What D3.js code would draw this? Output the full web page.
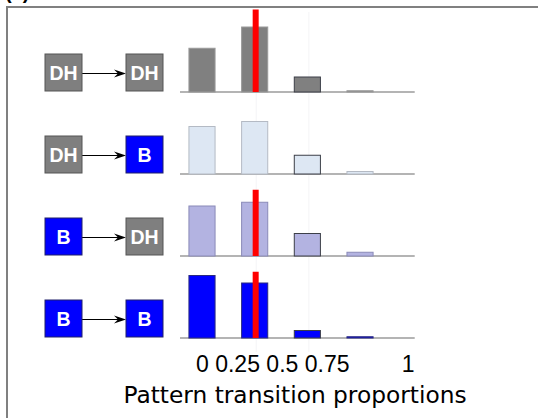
<!DOCTYPE html>
<html>
<head>
<meta charset="utf-8">
<script src="https://cdn.jsdelivr.net/npm/d3@7"></script>
<style>
  html, body { margin: 0; padding: 0; background: #fff; }
  svg { display: block; }
</style>
</head>
<body>
<svg id="chart" width="538" height="418"></svg>
<script>
// Histogram bins (proportion of pattern transitions)
const bins = [0, 0.25, 0.5, 0.75, 1];
const tickLabels = ["0", "0.25", "0.5", "0.75", "1"];

// Transition rows: state before -> state after
const fromState = ["DH", "DH", "B", "B"];
const toState   = ["DH", "B", "DH", "B"];

// Share of cases falling in each bin, one list per transition
const dhToDh = [0.35, 0.52, 0.12, 0.01, 0];
const dhToB  = [0.38, 0.42, 0.15, 0.02, 0];
const bToDh  = [0.40, 0.43, 0.18, 0.03, 0];
const bToB   = [0.50, 0.44, 0.06, 0.01, 0];
const rowValues = [dhToDh, dhToB, bToDh, bToB];

// Reference marker (red): position on the x axis and its height per row
const markerX = 0.25;
const markerHeights = [0.66, null, 0.53, 0.53];

const axisTitle = "Pattern transition proportions";
const panelTitle = "(a)";

// ---- styling -------------------------------------------------------------
const stateFill   = { DH: "#7f7f7f", B: "#0000ff" };
const stateStroke = { DH: "#555555", B: "#20206a" };
const rowFill     = ["#808080", "#dde7f3", "#b3b3e1", "#0000ff"];
const rowStroke   = ["#9a9a9a", "#b4bac4", "#8a8ab8", "#2a2a80"];
const darkEdge    = "#3c3f48";

const svg = d3.select("#chart");

// frame around the panel (cropped on the right and bottom)
svg.append("path")
  .attr("d", "M7,418 V7 H538")
  .attr("fill", "none")
  .attr("stroke", "#808080")
  .attr("stroke-width", 2);

// panel letter, mostly above the visible area
svg.append("text")
  .attr("x", 5).attr("y", -1)
  .attr("font-family", "Liberation Sans, Arial, sans-serif")
  .attr("font-weight", "bold")
  .attr("font-size", 20)
  .attr("fill", "#000")
  .text(panelTitle);

// ---- scales --------------------------------------------------------------
const x = d3.scaleLinear().domain([0, 1]).range([202, 412.7]);
const barW = x(0.124) - x(0);
const rowBase = d3.scaleLinear().domain([0, 3]).range([92, 338]);
const h = d3.scaleLinear().domain([0, 1]).range([0, 125]);

// faint guides
svg.append("g").selectAll("line")
  .data([0.25, 0.5])
  .join("line")
  .attr("x1", d => x(d) + 1.5).attr("x2", d => x(d) + 1.5)
  .attr("y1", 12).attr("y2", 352)
  .attr("stroke", "#f4f4f6")
  .attr("stroke-width", 1);

// ---- rows ----------------------------------------------------------------
rowValues.forEach((vals, r) => {
  const base = rowBase(r);
  const g = svg.append("g");

  // baseline
  g.append("line")
    .attr("x1", x(0) - 22).attr("x2", x(1) + 2)
    .attr("y1", base).attr("y2", base)
    .attr("stroke", "#b4b4b4")
    .attr("stroke-width", 2);

  // bars
  g.selectAll("rect.bar")
    .data(bins.map((b, i) => ({ b, v: vals[i] })).filter(d => d.v > 0))
    .join("rect")
    .attr("class", "bar")
    .attr("x", d => x(d.b) - barW / 2)
    .attr("y", d => base - h(d.v))
    .attr("width", barW)
    .attr("height", d => h(d.v))
    .attr("fill", rowFill[r])
    .attr("stroke", d => d.b === 0.5 ? darkEdge : rowStroke[r])
    .attr("stroke-width", 1);

  // red reference marker
  if (markerHeights[r] != null) {
    g.append("rect")
      .attr("x", x(markerX) - 2)
      .attr("y", base - h(markerHeights[r]))
      .attr("width", 6)
      .attr("height", h(markerHeights[r]))
      .attr("fill", "#ff0000");
  }

  // transition diagram: state box -> state box
  const cy = base - 19.5;
  const boxS = 37;
  const leftX = 45, rightX = 126;

  g.append("line")
    .attr("x1", leftX + boxS).attr("x2", rightX - 8)
    .attr("y1", cy + 1).attr("y2", cy + 1)
    .attr("stroke", "#000").attr("stroke-width", 1.2);
  g.append("path")
    .attr("d", `M${rightX},${cy + 1} L${rightX - 12},${cy - 3} L${rightX - 8},${cy + 1} L${rightX - 12},${cy + 5} Z`)
    .attr("fill", "#000");

  [[leftX, fromState[r]], [rightX, toState[r]]].forEach(([bx, s]) => {
    g.append("rect")
      .attr("x", bx).attr("y", cy - boxS / 2)
      .attr("width", boxS).attr("height", boxS)
      .attr("fill", stateFill[s])
      .attr("stroke", stateStroke[s])
      .attr("stroke-width", 1);
    g.append("text")
      .attr("x", bx + boxS / 2).attr("y", cy + 7)
      .attr("text-anchor", "middle")
      .attr("font-family", "Liberation Sans, Arial, sans-serif")
      .attr("font-weight", "bold")
      .attr("font-size", 19.5)
      .attr("fill", "#fff")
      .text(s);
  });
});

// ---- axis labels ---------------------------------------------------------
// tick labels set as one running line of text, the last one pushed out to the right
const tickText = svg.append("text")
  .attr("x", 196).attr("y", 372)
  .attr("font-family", "Liberation Sans, Arial, sans-serif")
  .attr("font-size", 23)
  .attr("fill", "#000")
  .style("white-space", "pre");
tickText.selectAll("tspan")
  .data(tickLabels)
  .join("tspan")
  .attr("x", (d, i) => i === tickLabels.length - 1 ? x(1) - 11 : null)
  .text((d, i) => (i > 0 && i < tickLabels.length - 1 ? " " : "") + d);

svg.append("text")
  .attr("x", 295).attr("y", 403)
  .attr("text-anchor", "middle")
  .attr("font-family", "DejaVu Sans, Verdana, sans-serif")
  .attr("font-size", 23.3)
  .attr("fill", "#000")
  .text(axisTitle);
</script>
</body>
</html>
